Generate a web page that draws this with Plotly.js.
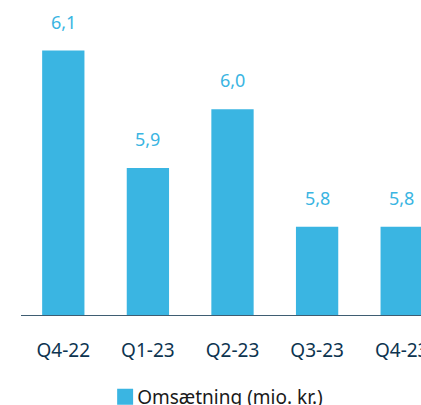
<!DOCTYPE html>
<html>
<head>
<meta charset="utf-8">
<script src="https://cdn.plot.ly/plotly-3.0.1.min.js"></script>
<style>
html, body { margin: 0; padding: 0; overflow: hidden; background: #fff; }
#chart { width: 444px; height: 405px; }
</style>
</head>
<body>
<div id="chart"></div>
<script>
const categories = ["Q4-22", "Q1-23", "Q2-23", "Q3-23", "Q4-23"];
const revenue = [6.1, 5.9, 6.0, 5.8, 5.8];
const seriesName = "Omsætning (mio. kr.)";

const barColor = "#3ab5e2";
const fontFamily = "'Noto Sans', 'Open Sans', sans-serif";

const trace = {
  type: "bar",
  x: categories,
  y: revenue,
  name: seriesName,
  marker: { color: barColor },
  showlegend: true,
  hoverinfo: "none"
};

const annotations = categories.map((c, i) => ({
  x: c,
  y: revenue[i],
  xref: "x",
  yref: "y",
  text: revenue[i].toFixed(1).replace(".", ","),
  showarrow: false,
  yanchor: "bottom",
  yshift: 15,
  font: { family: fontFamily, size: 18, color: barColor }
}));

const layout = {
  width: 444,
  height: 405,
  margin: { l: 21, r: 0, t: 0, b: 90, autoexpand: false },
  paper_bgcolor: "#ffffff",
  plot_bgcolor: "#ffffff",
  bargap: 0.5,
  separators: ",.",
  font: { family: fontFamily, size: 18, color: "#0d3450" },
  xaxis: {
    type: "category",
    automargin: false,
    showline: true,
    linecolor: "#3f5d72",
    linewidth: 1.3,
    ticks: "",
    showgrid: false,
    zeroline: false,
    ticklabelstandoff: 18,
    tickfont: { family: fontFamily, size: 19, color: "#0d3450" }
  },
  yaxis: {
    visible: false,
    automargin: false,
    range: [5.65, 6.186],
    showgrid: false,
    zeroline: false
  },
  showlegend: true,
  legend: {
    orientation: "h",
    x: 0.18,
    xanchor: "left",
    y: -0.2,
    yanchor: "top",
    font: { family: fontFamily, size: 19, color: "#1a1a1a" },
    bgcolor: "rgba(0,0,0,0)"
  },
  annotations: annotations
};

Plotly.newPlot("chart", [trace], layout, { displayModeBar: false, staticPlot: true }).then(gd => {
  gd.querySelectorAll(".legend .legendpoints path").forEach(p => {
    p.setAttribute("transform", "translate(28,0) scale(1.33)");
  });
});
</script>
</body>
</html>
